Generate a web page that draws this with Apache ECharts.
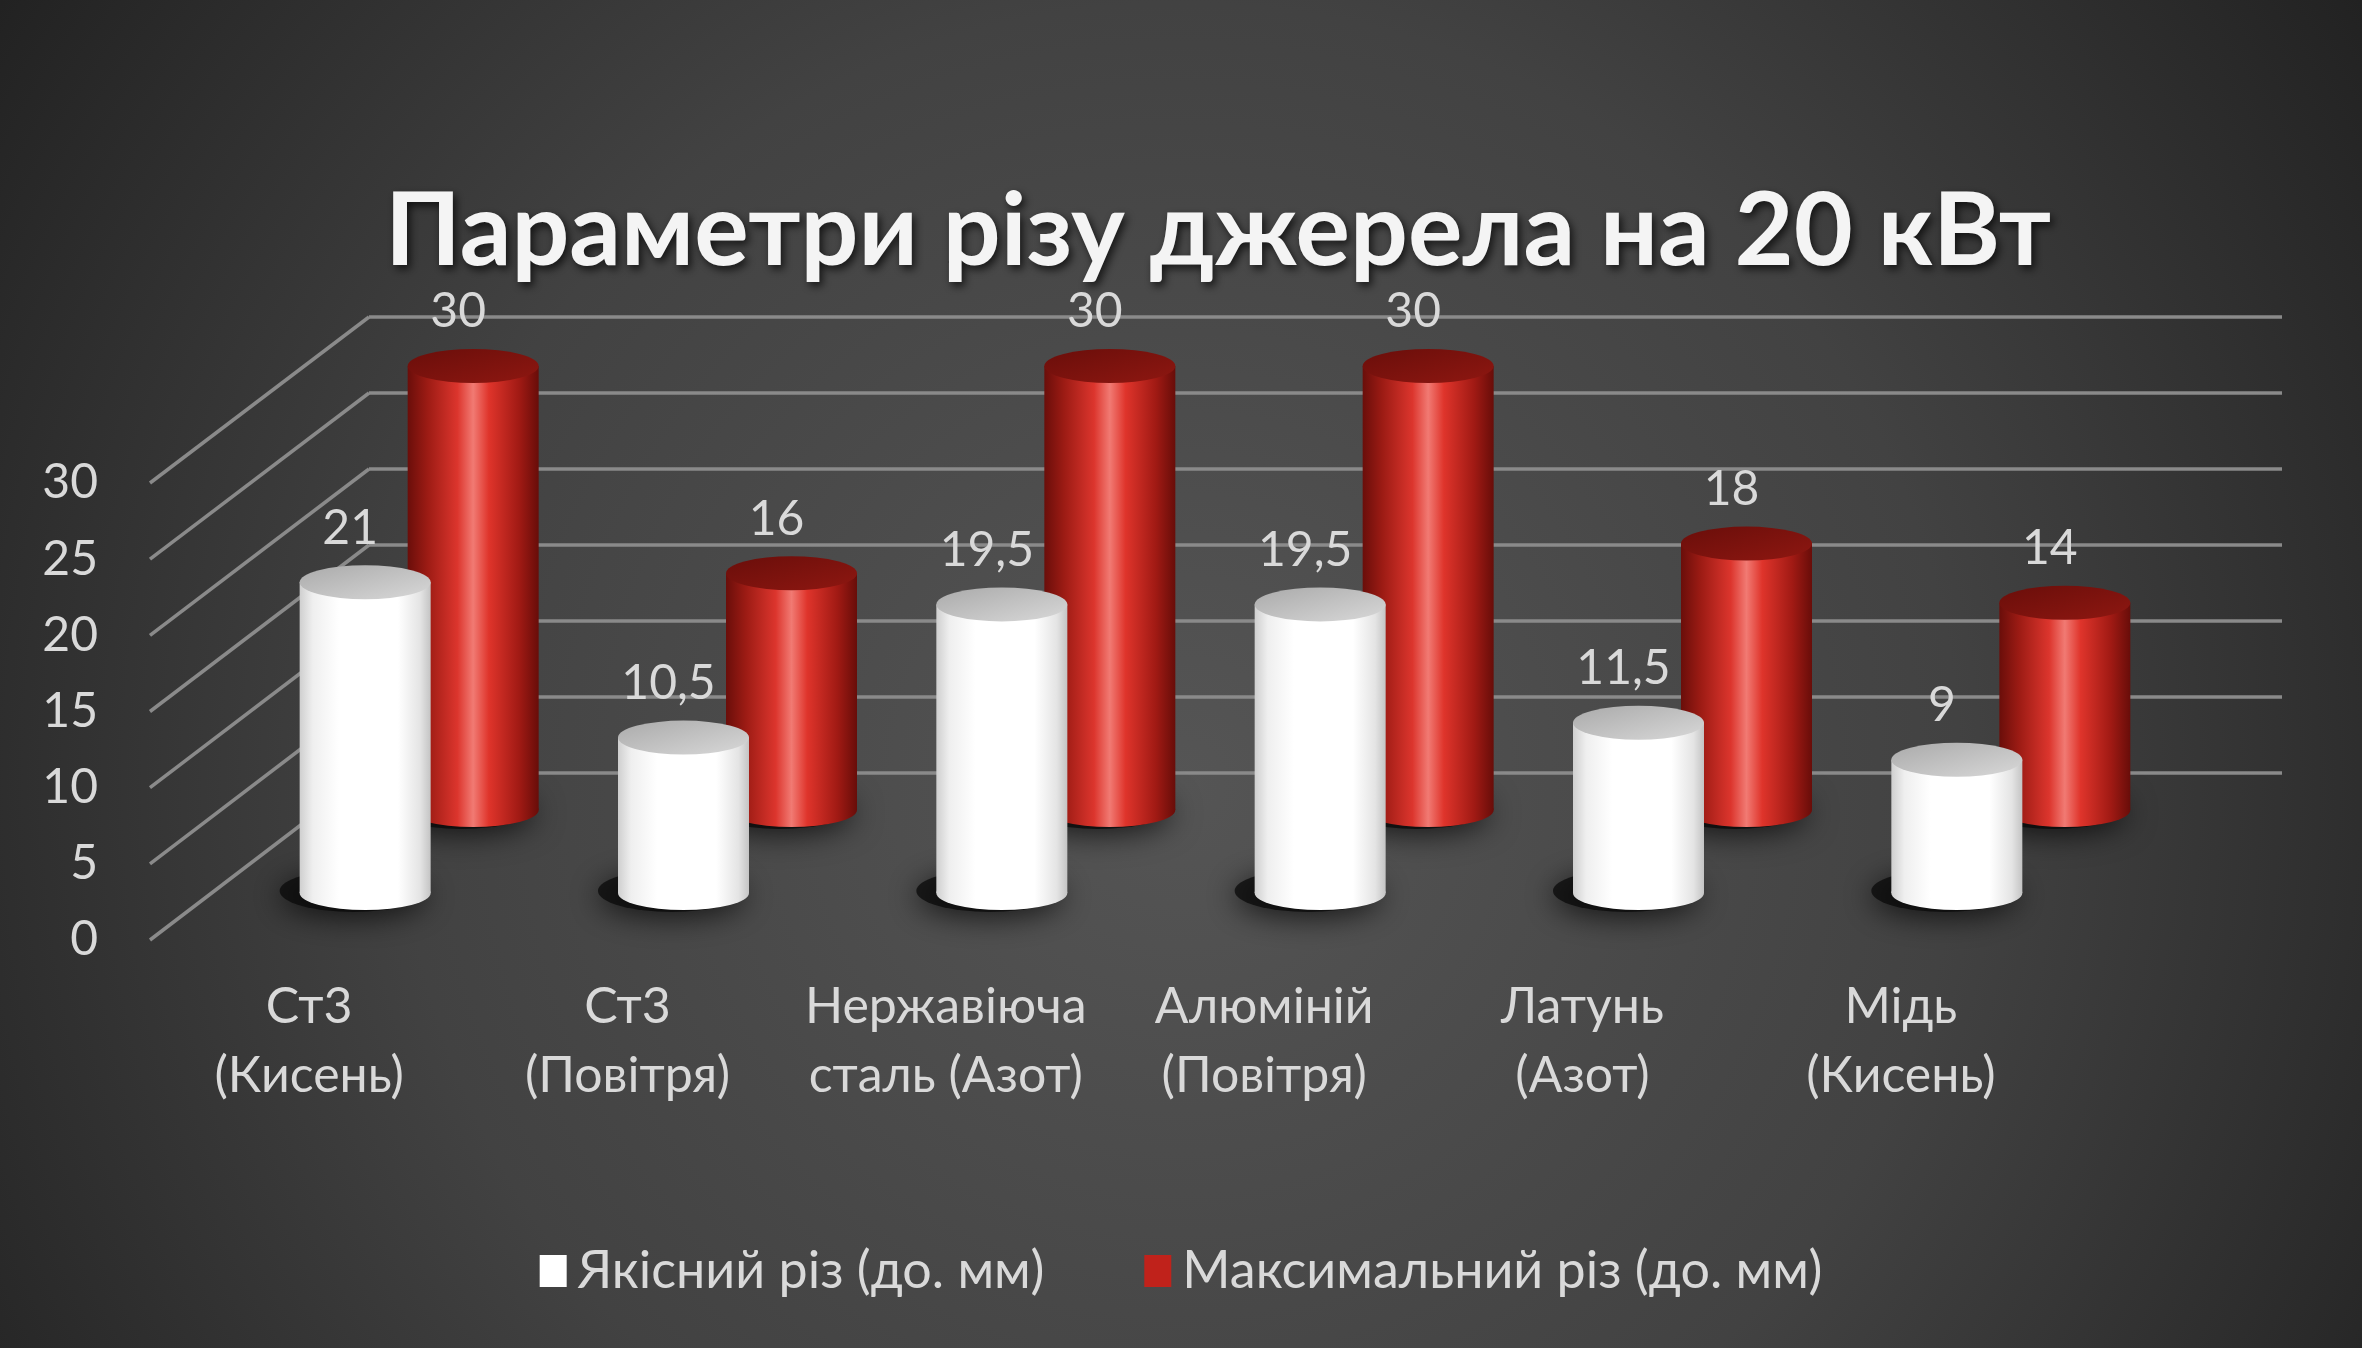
<!DOCTYPE html>
<html lang="uk">
  <head>
    <meta charset="UTF-8">
    <title>Параметри різу</title>
    <script src="https://cdn.jsdelivr.net/npm/echarts@6.0.0/dist/echarts.min.js"></script>
    <style>
      html, body { margin: 0; padding: 0; background: #333; }
    </style>
  </head>
  <body>
    <div id="main" style="width: 2362px;height:1348px;"></div>
    <script type="text/javascript">
      // chart data
      const categories = ['Ст3\n(Кисень)', 'Ст3\n(Повітря)', 'Нержавіюча\nсталь (Азот)', 'Алюміній\n(Повітря)', 'Латунь\n(Азот)', 'Мідь\n(Кисень)'];
      const qualityCut = [21, 10.5, 19.5, 19.5, 11.5, 9];
      const maxCut = [30, 16, 30, 30, 18, 14];
      const yTicks = [0, 5, 10, 15, 20, 25, 30];
      const seriesNames = ['Якісний різ (до. мм)', 'Максимальний різ (до. мм)'];

      const font = 'Lato, "Open Sans", "Noto Sans", sans-serif';
      const textColor = '#d9d9d9';
      const gridColor = '#8a8a8a';

      // planes of the fake 3D box: front edge, white row, red row, back wall
      const front = { left: 150, top: 483, width: 1910, height: 457 };
      const rowWhite = { left: 206, top: 449, width: 1910, height: 444 };
      const rowRed = { left: 314, top: 366, width: 1910, height: 444 };
      const wall = { left: 369, top: 317, width: 1913, height: 456 };
      const barW = 131;
      const capH = 34;

      let myChart = echarts.init(document.getElementById('main'));

      function hGrad(stops) {
        return new echarts.graphic.LinearGradient(0, 0, 1, 0, stops.map((c) => ({ offset: c[0], color: c[1] })));
      }

      const redBody = hGrad([[0, '#6a0e0a'], [0.15, '#9c1b14'], [0.38, '#dc352d'], [0.5, '#f17a73'], [0.62, '#df342b'], [0.85, '#a11a14'], [1, '#680d09']]);
      const redCap = new echarts.graphic.LinearGradient(0, 0, 1, 1, [{ offset: 0, color: '#6a0e0a' }, { offset: 1, color: '#8e1711' }]);
      const whiteBody = hGrad([[0, '#cfcfcf'], [0.1, '#efefef'], [0.3, '#ffffff'], [0.75, '#ffffff'], [0.92, '#e4e4e4'], [1, '#c4c4c4']]);
      const whiteCap = new echarts.graphic.LinearGradient(0, 0, 1, 1, [{ offset: 0, color: '#aaaaaa' }, { offset: 1, color: '#d8d8d8' }]);

      function valueAxis(idx, showLabel, showSplit) {
        return {
          type: 'value', gridIndex: idx, min: 0, max: 30, interval: 5,
          axisLine: { show: false }, axisTick: { show: false },
          axisLabel: { show: showLabel, color: textColor, fontFamily: font, fontSize: 48, margin: 52 },
          splitLine: { show: showSplit, lineStyle: { color: gridColor, width: 3.5 } }
        };
      }
      function catAxis(idx, showLabel) {
        return {
          type: 'category', gridIndex: idx, data: categories,
          axisLine: { show: false }, axisTick: { show: false },
          axisLabel: { show: showLabel, color: textColor, fontFamily: font, fontSize: 50, lineHeight: 69, margin: 32, interval: 0 }
        };
      }

      // one cylinder row = shadow + bottom ellipse + body + top ellipse
      function cylinderRow(name, values, axis, body, cap, z) {
        return [
          {
            name: name, type: 'pictorialBar', xAxisIndex: axis, yAxisIndex: axis, z: z,
            symbol: 'circle', symbolSize: [barW + 16, capH + 8], symbolPosition: 'start', symbolOffset: [-12, '45%'],
            itemStyle: { color: 'rgba(10,10,10,0.75)', shadowBlur: 30, shadowColor: 'rgba(0,0,0,0.95)', shadowOffsetY: 5 },
            silent: true, data: values
          },
          {
            name: name, type: 'pictorialBar', xAxisIndex: axis, yAxisIndex: axis, z: z + 1,
            symbol: 'circle', symbolSize: [barW, capH], symbolPosition: 'start', symbolOffset: [0, '50%'],
            itemStyle: { color: body }, data: values
          },
          {
            name: name, type: 'bar', xAxisIndex: axis, yAxisIndex: axis, z: z + 2,
            barWidth: barW, itemStyle: { color: body },
            label: {
              show: true, position: 'top', distance: 30, offset: [-15, 0],
              color: textColor, fontFamily: font, fontSize: 48,
              formatter: (p) => String(p.value).replace('.', ',')
            },
            data: values
          },
          {
            name: name, type: 'pictorialBar', xAxisIndex: axis, yAxisIndex: axis, z: z + 3,
            symbol: 'circle', symbolSize: [barW, capH], symbolPosition: 'end', symbolOffset: [0, '-50%'],
            itemStyle: { color: cap }, data: values
          }
        ];
      }

      let options = {
        backgroundColor: {
          type: 'radial', x: 0.5, y: 0.58, r: 1.05,
          colorStops: [{ offset: 0, color: '#555555' }, { offset: 0.55, color: '#424242' }, { offset: 1, color: '#222222' }]
        },
        title: {
          text: 'Параметри різу джерела на 20 кВт',
          left: 1213, textAlign: 'center', top: 176,
          textStyle: {
            color: '#f4f4f4', fontFamily: font, fontWeight: 'bold', fontSize: 102,
            textShadowColor: 'rgba(0,0,0,0.7)', textShadowBlur: 8, textShadowOffsetX: 3, textShadowOffsetY: 4
          }
        },
        legend: {
          bottom: 46, left: 'center', itemWidth: 27, itemHeight: 32, itemGap: 100,
          textStyle: { color: textColor, fontFamily: font, fontSize: 52, padding: [0, 0, 0, 6] },
          data: [
            { name: seriesNames[0], icon: 'rect', itemStyle: { color: '#ffffff' } },
            { name: seriesNames[1], icon: 'rect', itemStyle: { color: '#c0221b' } }
          ]
        },
        grid: [
          Object.assign({ containLabel: false }, front),
          Object.assign({ containLabel: false }, rowRed),
          Object.assign({ containLabel: false }, rowWhite),
          Object.assign({ containLabel: false }, wall)
        ],
        xAxis: [catAxis(0, true), catAxis(1, false), catAxis(2, false), catAxis(3, false)],
        yAxis: [valueAxis(0, true, false), valueAxis(1, false, false), valueAxis(2, false, false), valueAxis(3, false, true)],
        series: [].concat(
          cylinderRow(seriesNames[1], maxCut, 1, redBody, redCap, 2),
          cylinderRow(seriesNames[0], qualityCut, 2, whiteBody, whiteCap, 10)
        )
      };

      myChart.setOption(options);

      // side wall lines joining the front axis ticks to the back wall gridlines
      const sideLines = yTicks.map((v) => {
        const y1 = myChart.convertToPixel({ yAxisIndex: 0 }, v);
        const y2 = myChart.convertToPixel({ yAxisIndex: 3 }, v);
        return {
          type: 'line', z: 0, silent: true,
          shape: { x1: front.left, y1: y1, x2: wall.left, y2: y2 },
          style: { stroke: gridColor, lineWidth: 3.5 }
        };
      });
      myChart.setOption({ graphic: sideLines });
    </script>
  </body>
</html>
